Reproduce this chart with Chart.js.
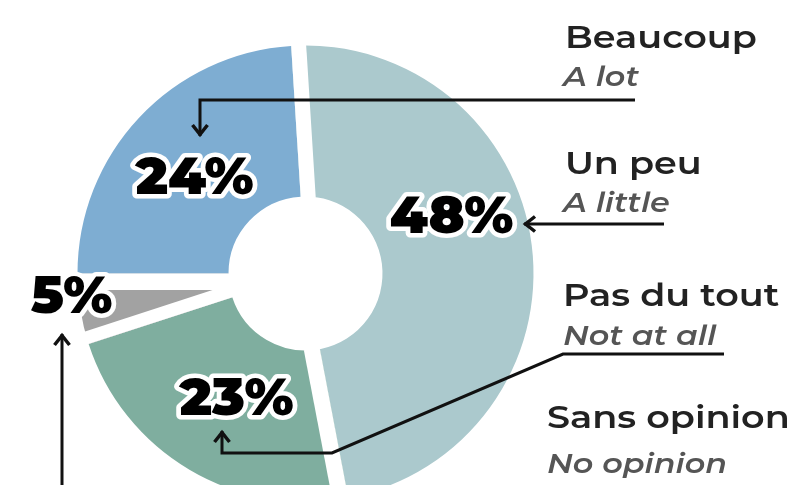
<!DOCTYPE html>
<html>
<head>
<meta charset="utf-8">
<script src="https://cdn.jsdelivr.net/npm/chart.js@4.4.1/dist/chart.umd.min.js"></script>
<style>
  html, body { margin: 0; padding: 0; background: #fff; overflow: hidden; }
  #wrap { position: relative; width: 800px; height: 560px; }
</style>
</head>
<body>
<div id="wrap"><canvas id="chart"></canvas></div>
<script>
const categories = ['Un peu', 'Pas du tout', 'Sans opinion', 'Beaucoup'];
const categoriesEn = ['A little', 'Not at all', 'No opinion', 'A lot'];
const shares = [48, 23, 5, 24];
const shareLabels = ['48%', '23%', '5%', '24%'];

(function () {
    'use strict';

    const colors = ['#abc9cd', '#7fae9f', '#a2a2a2', '#7eadd2'];

    // white gap cut into each slice on its start / end edge, px
    const gapStart = [15, 16, 13, 0];
    const gapEnd = [0, 0, 16.5, 0];

    // value labels, offset from the pie centre (x centre, baseline)
    const valueOffset = [[146, -41], [-69, 141], [-234, 39], [-111, -80]];

    // legend text: [x, baseline] for French, then English
    const legendPos = [
        [565, 174, 563, 212],
        [563, 306, 563, 345],
        [547, 428, 547, 473],
        [565, 48, 563, 86]
    ];

    // leader lines, the last point is the arrow tip
    const leaders = [
        [[664, 224], [524, 224]],
        [[724, 354], [563, 354], [332, 453], [222, 453], [222, 431]],
        [[62, 490], [62, 334]],
        [[635, 100], [200, 100], [200, 136]]
    ];

    const FONT = 'Montserrat, Inter, "Noto Sans", sans-serif';
    // the fallback face is narrower than the original, widen it a bit
    const LEGEND_STRETCH = 1.18;
    const VALUE_STRETCH = 1.05;

    function cut(ctx, x, y, angle, r0, len, y0, w) {
        if (!w) {
            return;
        }
        ctx.save();
        ctx.translate(x, y);
        ctx.rotate(angle);
        ctx.fillRect(r0, y0, len, w);
        ctx.restore();
    }

    const gapPlugin = {
        id: 'sliceGaps',
        afterDatasetsDraw(chart) {
            const ctx = chart.ctx;
            const arcs = chart.getDatasetMeta(0).data;
            ctx.save();
            ctx.fillStyle = '#fff';
            arcs.forEach((arc, i) => {
                const p = arc.getProps(['x', 'y', 'startAngle', 'endAngle', 'innerRadius', 'outerRadius'], true);
                const len = p.outerRadius - p.innerRadius + 8;
                cut(ctx, p.x, p.y, p.startAngle, p.innerRadius - 2, len, 0, gapStart[i]);
                cut(ctx, p.x, p.y, p.endAngle, p.innerRadius - 2, len, -gapEnd[i], gapEnd[i]);
            });
            ctx.restore();
        }
    };

    function arrow(ctx, from, tip) {
        const a = Math.atan2(tip[1] - from[1], tip[0] - from[0]);
        const back = 11;
        const side = 7.5;
        ctx.save();
        ctx.translate(tip[0], tip[1]);
        ctx.rotate(a);
        ctx.beginPath();
        ctx.moveTo(-back, -side);
        ctx.lineTo(-1.5, 0);
        ctx.lineTo(-back, side);
        ctx.lineJoin = 'miter';
        ctx.lineWidth = 3.5;
        ctx.stroke();
        ctx.restore();
    }

    function wideText(ctx, text, x, y, stretch, outline) {
        ctx.save();
        ctx.translate(x, y);
        ctx.scale(stretch, 1);
        if (outline) {
            ctx.strokeText(text, 0, 0);
        }
        ctx.fillText(text, 0, 0);
        ctx.restore();
    }

    const labelPlugin = {
        id: 'annotations',
        afterDraw(chart) {
            const ctx = chart.ctx;
            const arcs = chart.getDatasetMeta(0).data;
            ctx.save();

            ctx.strokeStyle = '#111';
            ctx.lineWidth = 3;
            leaders.forEach(pts => {
                ctx.beginPath();
                pts.forEach((pt, j) => (j ? ctx.lineTo(pt[0], pt[1]) : ctx.moveTo(pt[0], pt[1])));
                ctx.stroke();
                arrow(ctx, pts[pts.length - 2], pts[pts.length - 1]);
            });

            ctx.textAlign = 'center';
            ctx.textBaseline = 'alphabetic';
            ctx.font = '900 51px ' + FONT;
            ctx.lineJoin = 'round';
            ctx.lineWidth = 9;
            ctx.strokeStyle = '#fff';
            ctx.fillStyle = '#000';
            arcs.forEach((arc, i) => {
                wideText(ctx, shareLabels[i], arc.x + valueOffset[i][0], arc.y + valueOffset[i][1], VALUE_STRETCH, true);
            });

            ctx.textAlign = 'left';
            categories.forEach((name, i) => {
                const p = legendPos[i];
                ctx.font = '600 31px ' + FONT;
                ctx.fillStyle = '#222';
                wideText(ctx, name, p[0], p[1], LEGEND_STRETCH, false);
                ctx.font = 'italic 600 27px ' + FONT;
                ctx.fillStyle = '#555';
                wideText(ctx, categoriesEn[i], p[2], p[3], LEGEND_STRETCH, false);
            });

            ctx.restore();
        }
    };

    new Chart(document.getElementById('chart'), {
        type: 'doughnut',
        data: {
            labels: categories,
            datasets: [{
                data: shares,
                backgroundColor: colors,
                borderWidth: 0,
                hoverOffset: 0
            }]
        },
        options: {
            responsive: true,
            maintainAspectRatio: false,
            animation: false,
            rotation: -3.6,
            cutout: 77,
            layout: {
                padding: { left: 77.5, right: 266.5, top: 45.5, bottom: 58.5 }
            },
            events: [],
            plugins: {
                legend: { display: false },
                tooltip: { enabled: false }
            }
        },
        plugins: [gapPlugin, labelPlugin]
    });
})();
</script>
</body>
</html>
